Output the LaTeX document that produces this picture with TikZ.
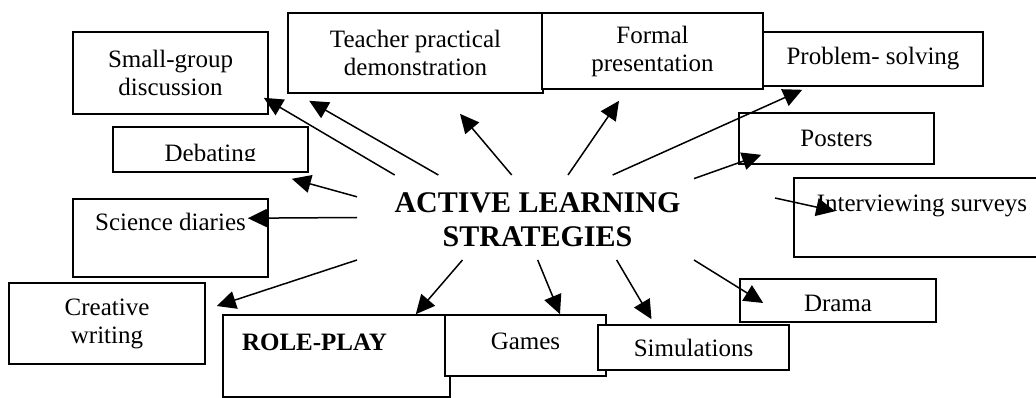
\documentclass[tikz,border=0pt]{standalone}
\usepackage{fontspec}
\setmainfont{Liberation Serif}
\usetikzlibrary{arrows.meta}

\tikzset{
  box/.style={draw, fill=white, line width=1.6pt, inner sep=0pt, align=center,
    font=\fontsize{25}{28}\selectfont},
  arr/.style={line width=1.5pt, -{Triangle[length=19pt,width=18pt]}},
}

\begin{document}
\begin{tikzpicture}[x=1pt,y=-1pt]
  \clip (0,0) rectangle (1036,398);
  \fill[white] (0,0) rectangle (1036,398);

  % middle title, hub is the frame the arrows start from
  \node[font=\fontsize{30}{34}\selectfont\bfseries, align=center] (title) at (537.5,220) {ACTIVE LEARNING\\STRATEGIES};
  \node[minimum width=337pt, minimum height=85pt, inner sep=0pt, outer sep=0pt] (hub) at (525.5,217.5) {};

  % top row
  \node[box, minimum width=195pt, minimum height=82pt] (small) at (170.5,73) {Small-group\\discussion};
  \node[box, minimum width=255pt, minimum height=80pt] (teacher) at (415.5,53) {Teacher practical\\demonstration};
  \node[box, minimum width=220pt, minimum height=54pt] (problem) at (873,59) {Problem- solving};
  \node[box, minimum width=221pt, minimum height=76pt] (formal) at (652.5,51) {Formal\\presentation};

  % left side
  \node[box, minimum width=195pt, minimum height=45pt] (debate) at (210.5,149.5) {};
  \begin{scope}
    \clip (113,127) rectangle (308,161);
    \node[anchor=base, inner sep=0pt, font=\fontsize{25}{28}\selectfont] (debatetext) at (210.5,162) {Debating};
  \end{scope}
  \node[box, minimum width=195pt, minimum height=78pt, text height=17pt, text depth=31pt] (science) at (170.5,238) {Science diaries};
  \node[box, minimum width=196pt, minimum height=81pt] (creative) at (107,323.5) {Creative\\writing};

  % right side
  \node[box, minimum width=195pt, minimum height=51pt] (posters) at (836.5,138.5) {Posters};
  \node[box, minimum width=256pt, minimum height=79pt, text height=17pt, text depth=28pt] (interview) at (922,217.5) {Interviewing surveys};
  \node[box, minimum width=196pt, minimum height=43pt, text height=21pt, text depth=0pt] (drama) at (838,300.5) {Drama};

  % bottom row
  \node[box, minimum height=82pt, inner xsep=19pt, text width=189pt, align=left,
    text height=17pt, text depth=29pt, font=\fontsize{25}{28}\selectfont\bfseries] (role) at (336.5,356) {ROLE-PLAY};
  \node[box, minimum width=161pt, minimum height=61pt, text height=17pt, text depth=10pt] (games) at (525.5,345.5) {Games};
  \node[box, minimum width=191pt, minimum height=45pt] (sim) at (693.5,347.5) {Simulations};

  % arrows out of the hub
  \draw[arr] (hub.162) -- ([shift={(-5,-17)}]small.south east);
  \draw[arr] (hub.154) -- ([shift={(22,7)}]teacher.south west);
  \draw[arr] (hub.108) -- ([shift={(44.5,20)}]teacher.south);
  \draw[arr] (hub.173) -- ([shift={(-17,6)}]debate.south east);
  \draw[arr] (hub.45) -- ([shift={(-33.5,11)}]formal.south);
  \draw[arr] (hub.26) -- ([shift={(40,3)}]problem.south west);
  \draw[arr] (hub.13) -- ([shift={(23,-10)}]posters.south west);
  \draw[arr] ([shift={(81,-19.5)}]hub.east) -- ([shift={(42,34)}]interview.north west);
  \draw[arr] (hub.180) -- ([shift={(-21,20)}]science.north east);
  \draw[arr] (hub.south west) -- ([shift={(11,-17.5)}]creative.east);
  \draw[arr] (hub.214) -- ([shift={(-35,0)}]role.north east);
  \draw[arr] (hub.286) -- ([shift={(34.5,0)}]games.north);
  \draw[arr] (hub.335) -- ([shift={(-42,-5)}]sim.north);
  \draw[arr] (hub.south east) -- ([shift={(24,2.5)}]drama.west);
\end{tikzpicture}
\end{document}
